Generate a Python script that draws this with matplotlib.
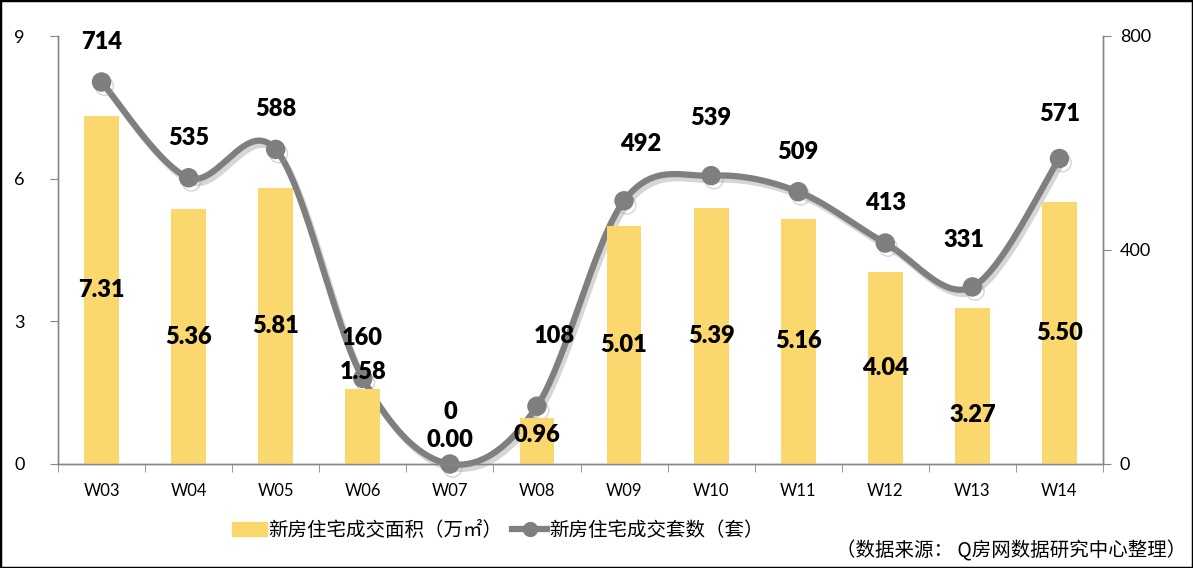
import numpy as np
import matplotlib
matplotlib.use("Agg")
import matplotlib.pyplot as plt
import matplotlib.patheffects as pe
from matplotlib.patches import Rectangle

plt.rcParams['font.family'] = ['Lato', 'Noto Sans CJK SC', 'DejaVu Sans']

# data
weeks = ['W03', 'W04', 'W05', 'W06', 'W07', 'W08', 'W09', 'W10', 'W11', 'W12', 'W13', 'W14']
area = [7.31, 5.36, 5.81, 1.58, 0.00, 0.96, 5.01, 5.39, 5.16, 4.04, 3.27, 5.50]
units = [714, 535, 588, 160, 0, 108, 492, 539, 509, 413, 331, 571]

area_name = '新房住宅成交面积（万㎡）'
units_name = '新房住宅成交套数（套）'
source = '（数据来源： Q房网数据研究中心整理）'

# label placement tweaks (data units on left axis / pixel offsets)
area_label_y = {3: 1.93, 4: 0.5, 5: 0.62, 10: 1.03}
units_label_off = {4: (0, 52), 5: (17, 70), 6: (17, 57), 7: (0, 58), 10: (-8, 47), 11: (0, 45)}

W, H = 1193, 568
fig = plt.figure(figsize=(W / 100, H / 100), dpi=100)
ax = fig.add_axes([58 / W, 1 - 464 / H, 1045 / W, 428 / H])
ax2 = ax.twinx()

x = np.arange(len(weeks))
ax.bar(x, area, width=0.4, color='#FBD86E', zorder=1)

ax.set_xlim(-0.5, len(weeks) - 0.5)
ax.set_ylim(0, 9)
ax.set_yticks([0, 3, 6, 9])
ax2.set_ylim(0, 800)
ax2.set_yticks([0, 400, 800])

for i, v in enumerate(area):
    yy = area_label_y.get(i, v / 2)
    ax.text(i, yy, f'{v:.2f}', ha='center', va='center', fontsize=17,
            fontweight='heavy', color='black', zorder=5)

# smoothed line (Bezier through the data points, computed in pixel space)
sx, sy = 1045 / 12, 428 / 800
px = x * sx
py = np.array(units) * sy
P = np.column_stack([px, py])
curve = []
t = np.linspace(0, 1, 30)
for k in range(len(P) - 1):
    p0 = P[max(k - 1, 0)]
    p1 = P[k]
    p2 = P[k + 1]
    p3 = P[min(k + 2, len(P) - 1)]
    c1 = p1 + (p2 - p0) / 6
    c2 = p2 - (p3 - p1) / 6
    seg = ((1 - t) ** 3)[:, None] * p1 + (3 * (1 - t) ** 2 * t)[:, None] * c1 \
        + (3 * (1 - t) * t ** 2)[:, None] * c2 + (t ** 3)[:, None] * p2
    curve.append(seg)
curve = np.vstack(curve)
shadow = [pe.SimpleLineShadow(offset=(2, -3), shadow_color='#999999', alpha=0.4), pe.Normal()]
ax2.plot(curve[:, 0] / sx, curve[:, 1] / sy, color='#7F7F7F', lw=4.5,
         solid_capstyle='round', clip_on=False, zorder=3, path_effects=shadow)
ax2.plot(x, units, 'o', color='#7F7F7F', markersize=13, clip_on=False, zorder=4,
         path_effects=shadow)

for i, v in enumerate(units):
    dx, dy = units_label_off.get(i, (0, 40))
    ax2.annotate(str(v), (i, v), xytext=(dx, dy), textcoords='offset pixels',
                 ha='center', va='center', fontsize=17, fontweight='heavy',
                 color='black', zorder=6, annotation_clip=False)

# axes styling
for a in (ax, ax2):
    a.spines['top'].set_visible(False)
    for s in ('left', 'right', 'bottom'):
        a.spines[s].set_color('#868686')
        a.spines[s].set_linewidth(1)
ax.set_zorder(ax2.get_zorder() + 1)
ax.patch.set_visible(False)
ax.tick_params(axis='y', length=6, color='#868686', labelsize=13, pad=18)
ax2.tick_params(axis='y', length=6, color='#868686', labelsize=13, pad=6)
ax.set_xticks(x)
ax.set_xticklabels(weeks)
ax.set_xticks(np.arange(-0.5, len(weeks)), minor=True)
ax.tick_params(axis='x', which='major', length=0, labelsize=12, pad=14)
ax.tick_params(axis='x', which='minor', length=6, color='#868686')

# legend
h1 = plt.Rectangle((0, 0), 1, 1, color='#FBD86E')
h2 = plt.Line2D([], [], color='#7F7F7F', lw=4.5, marker='o', markersize=10)
fig.legend([h1, h2], [area_name, units_name], loc='center left',
           bbox_to_anchor=(222 / W, 1 - 530 / H), ncol=2, frameon=False,
           prop={'family': ['Noto Sans CJK SC', 'DejaVu Sans'], 'size': 14},
           handlelength=1.8, handletextpad=0.1, columnspacing=0.5, borderpad=0)
fig.text(1186 / W, 1 - 551 / H, source, ha='right', va='center', fontsize=14,
         family=['Noto Sans CJK SC', 'DejaVu Sans'])

fig.patches.append(Rectangle((0, 0), 1, 1, transform=fig.transFigure, fill=False,
                             edgecolor='black', lw=2.5))

fig.savefig('out.png', dpi=100)
